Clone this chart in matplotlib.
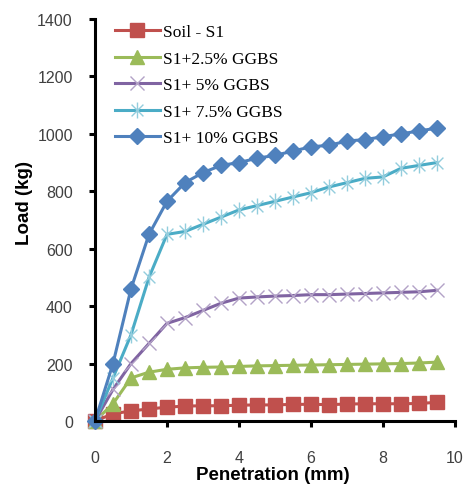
import matplotlib
matplotlib.use("Agg")
import matplotlib.pyplot as plt
from matplotlib.path import Path

penetration = [0, 0.5, 1, 1.5, 2, 2.5, 3, 3.5, 4, 4.5, 5, 5.5, 6, 6.5, 7, 7.5, 8, 8.5, 9, 9.5]
soil = [0, 25, 35, 42, 48, 52, 53, 53, 55, 56, 56, 58, 58, 57, 59, 60, 60, 60, 61, 65]
ggbs_2_5 = [0, 60, 150, 170, 180, 185, 187, 188, 190, 192, 193, 194, 195, 196, 197, 198, 199, 200, 202, 205]
ggbs_5 = [0, 110, 200, 270, 340, 360, 385, 410, 428, 432, 435, 437, 440, 440, 442, 444, 446, 448, 450, 455]
ggbs_7_5 = [0, 150, 300, 500, 650, 660, 685, 710, 735, 750, 765, 780, 795, 815, 830, 845, 850, 880, 890, 900]
ggbs_10 = [0, 200, 460, 650, 765, 830, 865, 890, 900, 915, 925, 940, 955, 960, 975, 980, 990, 1000, 1010, 1020]
labels = ["Soil - S1", "S1+2.5% GGBS", "S1+ 5% GGBS", "S1+ 7.5% GGBS", "S1+ 10% GGBS"]
xticks = [0, 2, 4, 6, 8, 10]
yticks = [0, 200, 400, 600, 800, 1000, 1200, 1400]

asterisk = Path([(-1, -1), (1, 1), (-1, 1), (1, -1), (0, -1.35), (0, 1.35)],
                [Path.MOVETO, Path.LINETO, Path.MOVETO, Path.LINETO, Path.MOVETO, Path.LINETO])

fig = plt.figure(figsize=(4.71, 4.85), dpi=100)
ax = fig.add_axes([0.2017, 0.1299, 0.7643, 0.8289])

ax.plot(penetration, soil, color="#C0504D", lw=2.2, marker="s", ms=9.5,
        mfc="#C0504D", mec="#C0504D", label=labels[0], clip_on=False)
ax.plot(penetration, ggbs_2_5, color="#9BBB59", lw=2.2, marker="^", ms=10.5,
        mfc="#9BBB59", mec="#9BBB59", label=labels[1], clip_on=False)
ax.plot(penetration, ggbs_5, color="#8064A2", lw=2.2, marker="x", ms=10.5,
        mec="#B3A2C7", mew=1.0, label=labels[2], clip_on=False)
ax.plot(penetration, ggbs_7_5, color="#4BACC6", lw=2.2, marker=asterisk, ms=11.5,
        mec="#93CDDD", mew=1.0, label=labels[3], clip_on=False)
ax.plot(penetration, ggbs_10, color="#4F81BD", lw=2.2, marker="D", ms=8.5,
        mfc="#4F81BD", mec="#4F81BD", label=labels[4], clip_on=False)

ax.set_xlim(0, 10)
ax.set_ylim(0, 1400)
ax.set_xticks(xticks)
ax.set_yticks(yticks)
for s in ["top", "right"]:
    ax.spines[s].set_visible(False)
for s in ["left", "bottom"]:
    ax.spines[s].set_linewidth(2.2)
ax.tick_params(axis="both", direction="out", length=4, width=2.2, colors="black",
               labelcolor="#404040", labelsize=11.5)
ax.tick_params(axis="x", pad=17)
ax.tick_params(axis="y", pad=12)
for t in ax.get_xticklabels() + ax.get_yticklabels():
    t.set_fontfamily("Liberation Sans")

ax.set_xlabel("Penetration (mm)", fontsize=13.5, fontweight="bold",
              fontfamily="Liberation Sans", va="center")
ax.set_ylabel("Load (kg)", fontsize=13.5, fontweight="bold",
              fontfamily="Liberation Sans", va="center")
ax.xaxis.set_label_coords(0.494, -0.132)
ax.yaxis.set_label_coords(-0.197, 0.545)

leg = ax.legend(loc="upper left", bbox_to_anchor=(0.035, 1.005), frameon=False,
                prop={"family": "Liberation Serif", "size": 12.5},
                handlelength=2.6, handletextpad=0.2, labelspacing=0.6,
                borderaxespad=0.0)

fig.savefig("out.png", dpi=100)
